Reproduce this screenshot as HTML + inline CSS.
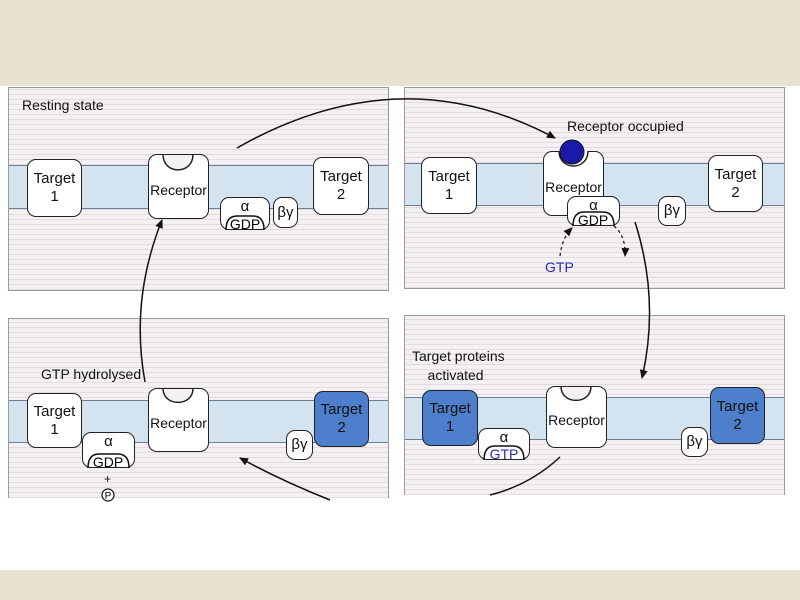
<!DOCTYPE html>
<html><head><meta charset="utf-8"><style>
html,body{margin:0;padding:0}
body{width:800px;height:600px;position:relative;background:#fff;font-family:"Liberation Sans",sans-serif;overflow:hidden}
.beige{position:absolute;left:0;width:800px;background:#e9e1d2}
.panel{position:absolute;background-color:#f3f1f3;background-image:repeating-linear-gradient(0deg,rgba(210,190,200,.45) 0 1px,transparent 1px 5px);border:1px solid #9a9a9a;box-sizing:border-box}
.mem{position:absolute;background:#d3e3f0;border-top:1px solid #6c7f95;border-bottom:1px solid #6c7f95;box-sizing:border-box}
.box{position:absolute;background:#fff;border:1.5px solid #222;border-radius:9px;box-sizing:border-box;text-align:center;font-size:15px;line-height:18px;color:#111;display:flex;align-items:center;justify-content:center}
.rec{font-size:14px;padding-top:6px}
.blue{background:#4d7fcc}
.t{position:absolute;font-size:14px;color:#111;white-space:nowrap}
</style></head><body>
<div class="beige" style="top:0;height:86px"></div>
<div class="beige" style="top:570px;height:30px"></div>

<div class="panel" style="left:8px;top:87px;width:381px;height:204px"></div>
<div class="panel" style="left:404px;top:87px;width:381px;height:202px"></div>
<div class="panel" style="left:8px;top:318px;width:381px;height:180px;border-bottom:none"></div>
<div class="panel" style="left:404px;top:315px;width:381px;height:180px;border-bottom:none"></div>

<div class="mem" style="left:9px;top:165px;width:379px;height:44px"></div>
<div class="mem" style="left:405px;top:163px;width:379px;height:43px"></div>
<div class="mem" style="left:9px;top:400px;width:379px;height:43px"></div>
<div class="mem" style="left:405px;top:397px;width:379px;height:43px"></div>

<!-- TL -->
<div class="t" style="left:22px;top:97px">Resting state</div>
<div class="box" style="left:27px;top:159px;width:55px;height:58px">Target<br>1</div>
<div class="box rec" style="left:148px;top:154px;width:61px;height:65px">Receptor</div>
<div class="box" style="left:220px;top:197px;width:50px;height:33px;align-items:flex-start">α</div>
<div class="box" style="left:273px;top:197px;width:25px;height:31px">βγ</div>
<div class="box" style="left:313px;top:157px;width:56px;height:58px">Target<br>2</div>
<!-- TR -->
<div class="t" style="left:567px;top:118px">Receptor occupied</div>
<div class="box" style="left:421px;top:157px;width:56px;height:57px">Target<br>1</div>
<div class="box rec" style="left:543px;top:151px;width:61px;height:65px">Receptor</div>
<div class="box" style="left:567px;top:196px;width:53px;height:30px;align-items:flex-start">α</div>
<div class="box" style="left:658px;top:196px;width:28px;height:30px">βγ</div>
<div class="box" style="left:708px;top:155px;width:55px;height:57px">Target<br>2</div>
<div class="t" style="left:545px;top:259px;color:#2a2ab0">GTP</div>
<!-- BL -->
<div class="t" style="left:41px;top:366px">GTP hydrolysed</div>
<div class="box" style="left:27px;top:393px;width:55px;height:55px">Target<br>1</div>
<div class="box" style="left:82px;top:432px;width:53px;height:36px;align-items:flex-start">α</div>
<div class="box rec" style="left:148px;top:388px;width:61px;height:64px">Receptor</div>
<div class="box" style="left:286px;top:430px;width:27px;height:30px">βγ</div>
<div class="box blue" style="left:314px;top:391px;width:55px;height:56px">Target<br>2</div>
<div class="t" style="left:104px;top:472px;font-size:12px">+</div>
<!-- BR -->
<div class="t" style="left:412px;top:347px;line-height:19px">Target proteins<br>&nbsp;&nbsp;&nbsp;&nbsp;activated</div>
<div class="box blue" style="left:422px;top:390px;width:56px;height:56px">Target<br>1</div>
<div class="box" style="left:478px;top:428px;width:52px;height:32px;align-items:flex-start">α</div>
<div class="box rec" style="left:546px;top:386px;width:61px;height:62px">Receptor</div>
<div class="box" style="left:681px;top:427px;width:27px;height:30px">βγ</div>
<div class="box blue" style="left:710px;top:387px;width:55px;height:57px">Target<br>2</div>

<svg width="800" height="600" style="position:absolute;left:0;top:0" xmlns="http://www.w3.org/2000/svg">
<defs><marker id="a" markerWidth="10" markerHeight="10" refX="8" refY="5" orient="auto" markerUnits="userSpaceOnUse"><path d="M0,1 L9,5 L0,9 Z" fill="#111"/></marker></defs>
<g fill="#f3f1f3" stroke="#222" stroke-width="1.5">
<path d="M163,155 C163,175 193,175 193,155 Z" stroke="none"/>
<path d="M163,154.5 C163,175 193,175 193,154.5" fill="none"/>
<path d="M559,151 C559,171 588,171 588,151" fill="#fff"/>
<path d="M561,387 C561,405 591,405 591,387 Z" stroke="none"/>
<path d="M561,386.5 C561,405 591,405 591,386.5" fill="none"/>
<path d="M163,389 C163,407 193,407 193,389 Z" stroke="none"/>
<path d="M163,388.5 C163,407 193,407 193,388.5" fill="none"/>
</g>
<g fill="none" stroke="#111" stroke-width="1.5">
<path d="M226,230 Q226,216 237,216 L253,216 Q264,216 264,230"/>
<path d="M573,226 Q573,212 584,212 L603,212 Q614,212 614,226"/>
<path d="M88,468 Q88,454 99,454 L118,454 Q129,454 129,468"/>
<path d="M484,460 Q484,446 495,446 L513,446 Q524,446 524,460"/>
</g>
<circle cx="572" cy="152" r="12" fill="#1a1aa8" stroke="#111" stroke-width="1"/>
<circle cx="108" cy="495" r="6" fill="#fff" stroke="#111" stroke-width="1.2"/>
<text x="108" y="499" font-size="10" text-anchor="middle" font-family="Liberation Sans">P</text>
<text x="245" y="229" font-size="14" text-anchor="middle" font-family="Liberation Sans">GDP</text>
<text x="593" y="225" font-size="14" text-anchor="middle" font-family="Liberation Sans">GDP</text>
<text x="108" y="467" font-size="14" text-anchor="middle" font-family="Liberation Sans">GDP</text>
<text x="504" y="459" font-size="14" text-anchor="middle" font-family="Liberation Sans" fill="#2a2ab0">GTP</text>
<g fill="none" stroke="#111" stroke-width="1.5">
<path d="M237,148 Q400,55 555,138" marker-end="url(#a)"/>
<path d="M635,222 Q660,300 642,378" marker-end="url(#a)"/>
<path d="M560,457 Q530,485 490,495"/>
<path d="M330,500 Q280,480 240,458" marker-end="url(#a)"/>
<path d="M145,382 Q130,300 162,220" marker-end="url(#a)"/>
</g>
<g fill="none" stroke="#111" stroke-width="1.2" stroke-dasharray="3,3">
<path d="M560,256 Q562,238 572,228" marker-end="url(#a)"/>
<path d="M614,226 Q626,236 625,256" marker-end="url(#a)"/>
</g>
</svg>
</body></html>
